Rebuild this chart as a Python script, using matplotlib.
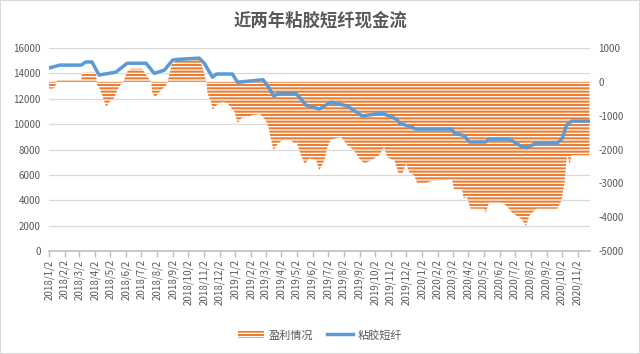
import numpy as np
import pandas as pd
import matplotlib
matplotlib.use('Agg')
import matplotlib.pyplot as plt
from matplotlib.patches import Patch, Rectangle
from matplotlib.lines import Line2D
from matplotlib.ticker import FuncFormatter

plt.rcParams['font.family'] = ['Noto Sans CJK SC', 'DejaVu Sans']
plt.rcParams['hatch.linewidth'] = 1.5

# 盈利情况 (right axis)
profit_dates = [
    '2018-01-02', '2018-01-10', '2018-01-14', '2018-01-18', '2018-03-06', '2018-03-08',
    '2018-04-04', '2018-04-06', '2018-04-10', '2018-04-16', '2018-04-24', '2018-04-30',
    '2018-05-09', '2018-05-19', '2018-05-27', '2018-06-04', '2018-06-12', '2018-07-03',
    '2018-07-11', '2018-07-21', '2018-07-23', '2018-07-29', '2018-08-06', '2018-08-20',
    '2018-08-22', '2018-08-30', '2018-09-09', '2018-10-04', '2018-10-08', '2018-10-23',
    '2018-10-29', '2018-11-06', '2018-11-08', '2018-11-16', '2018-11-18', '2018-11-26',
    '2018-12-07', '2018-12-17', '2018-12-31', '2019-01-06', '2019-01-14', '2019-01-24',
    '2019-02-05', '2019-02-19', '2019-03-02', '2019-03-08', '2019-03-12', '2019-03-18',
    '2019-03-24', '2019-04-03', '2019-04-21', '2019-04-27', '2019-05-02', '2019-05-10',
    '2019-05-18', '2019-05-26', '2019-06-09', '2019-06-15', '2019-06-25', '2019-07-01',
    '2019-07-08', '2019-07-28', '2019-08-09', '2019-08-22', '2019-09-01', '2019-09-11',
    '2019-09-25', '2019-10-10', '2019-10-20', '2019-10-26', '2019-11-09', '2019-11-17',
    '2019-11-25', '2019-12-02', '2019-12-08', '2019-12-18', '2019-12-24', '2020-01-07',
    '2020-01-23', '2020-03-01', '2020-03-05', '2020-03-20', '2020-03-24', '2020-03-30',
    '2020-04-06', '2020-05-02', '2020-05-06', '2020-05-12', '2020-06-07', '2020-06-15',
    '2020-06-27', '2020-07-14', '2020-07-24', '2020-07-30', '2020-08-13', '2020-09-23',
    '2020-10-01', '2020-10-07', '2020-10-11', '2020-10-13', '2020-10-17', '2020-10-21',
    '2020-11-25',
]
profit = [
    -200, -200, -150, 60, 60, 270,
    270, -100, -150, -390, -740, -600,
    -480, -150, 0, 300, 390, 390,
    210, 0, -330, -450, -300, -90,
    0, 510, 650, 650, 710, 710,
    450, 0, -330, -630, -830, -680,
    -600, -630, -890, -1220, -1070, -1040,
    -980, -950, -1130, -1370, -1670, -2020,
    -1870, -1730, -1730, -1820, -1790, -2170,
    -2440, -2260, -2320, -2620, -2320, -1930,
    -1700, -1640, -1870, -2020, -2260, -2410,
    -2320, -2170, -1930, -2230, -2320, -2710,
    -2710, -2410, -2680, -2770, -3010, -3010,
    -2920, -2890, -3180, -3180, -3450, -3400,
    -3750, -3750, -3870, -3570, -3570, -3660,
    -3870, -4050, -4260, -3960, -3750, -3750,
    -3510, -3010, -2320, -2170, -2470, -2170,
    -2170,
]

# 粘胶短纤 price (left axis)
price_dates = [
    '2018-01-02', '2018-01-23', '2018-03-06', '2018-03-15', '2018-03-27', '2018-04-10',
    '2018-05-13', '2018-06-04', '2018-07-11', '2018-07-27', '2018-08-16', '2018-09-01',
    '2018-09-09', '2018-10-23', '2018-11-02', '2018-11-18', '2018-11-26', '2018-12-27',
    '2019-01-06', '2019-02-25', '2019-03-08', '2019-03-18', '2019-03-28', '2019-04-30',
    '2019-05-20', '2019-06-15', '2019-07-08', '2019-08-09', '2019-09-07', '2019-10-16',
    '2019-11-13', '2019-11-19', '2019-12-22', '2020-03-01', '2020-03-05', '2020-03-24',
    '2020-04-04', '2020-05-06', '2020-05-12', '2020-06-21', '2020-07-14', '2020-07-24',
    '2020-08-13', '2020-09-23', '2020-10-03', '2020-10-11', '2020-10-21', '2020-11-25',
]
price = [
    14420, 14650, 14650, 14900, 14900, 13870,
    14100, 14800, 14800, 14000, 14260, 15050,
    15100, 15200, 14800, 13700, 13950, 13950,
    13300, 13500, 12900, 12200, 12450, 12450,
    11500, 11190, 11740, 11430, 10640, 10870,
    10400, 10090, 9610, 9610, 9300, 9100,
    8590, 8590, 8820, 8820, 8270, 8120,
    8510, 8510, 8900, 9930, 10240, 10240,
]

tick_dates = pd.date_range('2018-01-01', '2020-11-01', freq='MS') + pd.Timedelta(days=1)
tick_labels = [f'{d.year}/{d.month}/{d.day}' for d in tick_dates]

orange = '#ED7D31'
blue = '#5B9BD5'
grey = '#595959'

fig = plt.figure(figsize=(6.4, 3.54), dpi=100)
ax1 = fig.add_axes([49 / 640, 1 - 251 / 354, 541 / 640, 203 / 354])
ax2 = ax1.twinx()
ax3 = ax1.twinx()

pd_x = pd.to_datetime(profit_dates)
ax2.fill_between(pd_x, profit, 0, facecolor='white', edgecolor=orange,
                 hatch='-----', linewidth=0)
ax3.plot(pd.to_datetime(price_dates), price, color=blue, lw=2.5, solid_capstyle='round')

xmin, xmax = pd.Timestamp('2018-01-02'), pd.Timestamp('2020-11-26')
for a in (ax1, ax2, ax3):
    a.set_xlim(xmin, xmax)
    for s in a.spines.values():
        s.set_visible(False)

ax1.set_ylim(0, 16000)
ax1.set_yticks(np.arange(0, 16001, 2000))
ax1.grid(axis='y', color='#D9D9D9', lw=0.9)
ax1.set_axisbelow(True)
ax1.tick_params(axis='y', length=0, labelsize=7, labelcolor=grey, pad=6)
ax1.spines['bottom'].set_visible(True)
ax1.spines['bottom'].set_color('#BFBFBF')
ax1.spines['bottom'].set_linewidth(1.2)
ax1.set_xticks(tick_dates)
ax1.set_xticklabels(tick_labels, rotation=90, fontsize=7, color=grey)
ax1.tick_params(axis='x', length=4, color='#BFBFBF', width=1, pad=2)

ax2.set_ylim(-5000, 1000)
ax2.set_yticks(np.arange(-5000, 1001, 1000))
ax2.yaxis.set_major_formatter(FuncFormatter(lambda v, p: f'{int(v)}'))
ax2.tick_params(axis='y', length=0, labelsize=7, labelcolor=grey, pad=6)

ax3.set_ylim(0, 16000)
ax3.set_yticks([])

fig.text(0.5, 1 - 21 / 354, '近两年粘胶短纤现金流', ha='center', va='center',
         fontsize=12.5, fontweight='bold', color=grey)

handles = [Patch(facecolor='white', edgecolor=orange, hatch='-----', linewidth=0),
           Line2D([0], [0], color=blue, lw=2.5)]
fig.legend(handles, ['盈利情况', '粘胶短纤'], loc='center', ncol=2,
           bbox_to_anchor=(0.5, 1 - 335 / 354), frameon=False, fontsize=8,
           labelcolor=grey, handlelength=2.4, columnspacing=1.2, handletextpad=0.4)

fig.patches.append(Rectangle((0, 0), 1, 1, transform=fig.transFigure,
                             fill=False, edgecolor='#D9D9D9', lw=1.5))

fig.savefig('out.png', dpi=100)
